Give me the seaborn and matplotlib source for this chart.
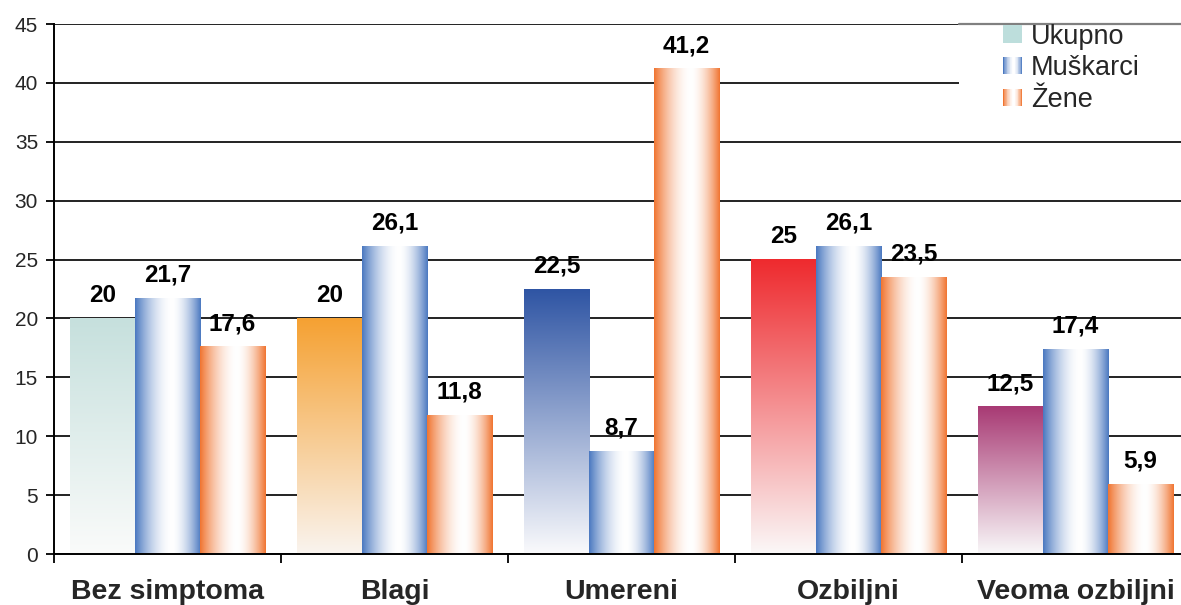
import numpy as np
import pandas as pd
import matplotlib
matplotlib.use("Agg")
import matplotlib.pyplot as plt
from matplotlib.patches import Rectangle, Patch
from matplotlib.lines import Line2D
from matplotlib.legend_handler import HandlerBase
from matplotlib.colors import to_rgb
import seaborn as sns

# ---- data ----
categories = ["Bez simptoma", "Blagi", "Umereni", "Ozbiljni", "Veoma ozbiljni"]
groups = ["Ukupno", "Muškarci", "Žene"]
ukupno = [20, 20, 22.5, 25, 12.5]
muskarci = [21.7, 26.1, 8.7, 26.1, 17.4]
zene = [17.6, 11.8, 41.2, 23.5, 5.9]
y_ticks = [0, 5, 10, 15, 20, 25, 30, 35, 40, 45]

# top colours of the "Ukupno" bars (fade to white at the baseline)
ukupno_top = ["#C6E0DD", "#F5A132", "#2F55A4", "#EE2A2E", "#A83A74"]
ukupno_bottom = ["#FAFBFA", "#FAF4EF", "#FAFAFC", "#FBF8F8", "#F9F8F9"]
muskarci_edge = "#4A78C0"
zene_edge = "#F07430"
legend_ukupno = "#BDDEDC"

df = pd.DataFrame({
    "kategorija": categories * 3,
    "grupa": [g for g in groups for _ in categories],
    "vrednost": ukupno + muskarci + zene,
})

sns.set_style("white")
plt.rcParams["font.family"] = ["Liberation Sans", "DejaVu Sans"]

W, H = 1181, 605
fig = plt.figure(figsize=(W / 100, H / 100), dpi=100)
ax = fig.add_axes([54 / W, 51 / H, 1135 / W, 530 / H])

sns.barplot(data=df, x="kategorija", y="vrednost", hue="grupa",
            order=categories, hue_order=groups, width=0.86,
            ax=ax, legend=False, saturation=1)


def side_gradient(edge, n=256, peak=0.56):
    t = np.linspace(0, 1, n)
    mix = np.where(t < peak, t / peak, (1 - t) / (1 - peak))
    w = 1 - (1 - mix) ** 1.8
    e = np.array(to_rgb(edge))
    return (e[None, :] * (1 - w[:, None]) + np.ones(3)[None, :] * w[:, None])


def vertical_gradient(top, bottom, n=256):
    t = np.linspace(0, 1, n)[:, None]
    a, b = np.array(to_rgb(top)), np.array(to_rgb(bottom))
    return a[None, :] * (1 - t) + b[None, :] * t


blue_side = side_gradient(muskarci_edge)
orange_side = side_gradient(zene_edge)

for gi, cont in enumerate(ax.containers):
    for ci, bar in enumerate(cont.patches):
        x0, w, h = bar.get_x(), bar.get_width(), bar.get_height()
        bar.set_facecolor("none")
        bar.set_edgecolor("none")
        if gi == 0:
            img = vertical_gradient(ukupno_top[ci], ukupno_bottom[ci])[:, None, :]
        elif gi == 1:
            img = blue_side[None, :, :]
        else:
            img = orange_side[None, :, :]
        ax.imshow(img, extent=[x0, x0 + w, 0, h], origin="upper",
                  aspect="auto", interpolation="bilinear", zorder=2)

    values = [ukupno, muskarci, zene][gi]
    for ci, bar in enumerate(cont.patches):
        v = values[ci]
        txt = f"{v:g}".replace(".", ",")
        ax.annotate(txt, (bar.get_x() + bar.get_width() / 2, v),
                    xytext=(0, 12), textcoords="offset points",
                    ha="center", va="baseline", fontsize=17.5,
                    fontweight="bold", color="black", zorder=4)

ax.set_xlim(-0.5, 4.5)
ax.set_ylim(0, 45)
ax.set_yticks(y_ticks)
ax.set_yticklabels([str(t) for t in y_ticks])
ax.set_xticks(range(len(categories)))
ax.set_xticklabels(categories, fontsize=20.5, fontweight="bold")
ax.set_xticks(np.arange(-0.5, 5.0, 1.0), minor=True)
ax.set_xlabel("")
ax.set_ylabel("")

ax.grid(axis="y", color="#222222", linewidth=1.4)
ax.grid(axis="x", visible=False)
ax.set_axisbelow(True)

ax.tick_params(axis="y", direction="out", length=6, width=1.3,
               color="black", pad=5.5, labelsize=15, left=True)
ax.tick_params(axis="x", which="major", length=0, pad=18)
ax.tick_params(axis="x", which="minor", direction="out", length=6.5,
               width=1.3, color="black", bottom=True)

for s in ["top", "right"]:
    ax.spines[s].set_visible(False)
for s in ["left", "bottom"]:
    ax.spines[s].set_color("black")
    ax.spines[s].set_linewidth(1.4)

# legend panel: white background with a grey top rule
panel = Rectangle((959 / W, 1 - 116 / H), (W - 959) / W, (116 - 24) / H,
                  transform=fig.transFigure, facecolor="white",
                  edgecolor="none", zorder=5)
fig.add_artist(panel)
fig.add_artist(Line2D([959 / W, 1.0], [1 - 24 / H, 1 - 24 / H],
                      transform=fig.transFigure, color="#808080",
                      linewidth=1.6, zorder=6))


class GradientHandler(HandlerBase):
    def __init__(self, colors):
        super().__init__()
        self.colors = colors

    def create_artists(self, legend, orig_handle, xdescent, ydescent,
                       width, height, fontsize, trans):
        n = len(self.colors)
        arts = []
        for k, c in enumerate(self.colors):
            arts.append(Rectangle((-xdescent + k * width / n, -ydescent),
                                  width / n * 1.02, height, facecolor=c,
                                  edgecolor="none", transform=trans))
        return arts


h_uk = Patch(facecolor=legend_ukupno)
h_mu = Patch(facecolor=muskarci_edge)
h_ze = Patch(facecolor=zene_edge)
handler_map = {
    h_uk: GradientHandler([legend_ukupno] * 4),
    h_mu: GradientHandler([tuple(c) for c in blue_side[::256 // 24]]),
    h_ze: GradientHandler([tuple(c) for c in orange_side[::256 // 24]]),
}
leg = fig.legend([h_uk, h_mu, h_ze], groups, handler_map=handler_map,
                 loc="upper left", bbox_to_anchor=(1003 / W, 1 - 23.5 / H),
                 frameon=False, fontsize=19.5, borderpad=0, borderaxespad=0,
                 handlelength=0.7, handleheight=0.6, handletextpad=0.33,
                 labelspacing=0.21)
leg.set_zorder(7)

fig.savefig("out.png", dpi=100)
